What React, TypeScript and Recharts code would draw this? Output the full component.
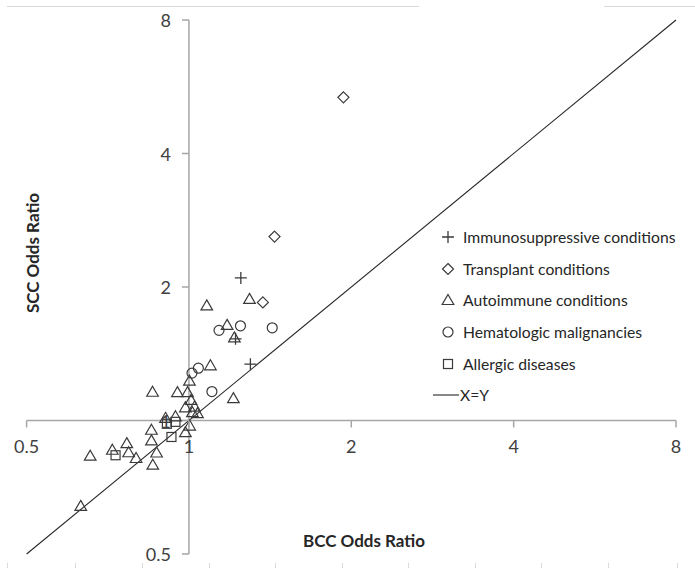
import React from 'react';
import { ScatterChart, Scatter, XAxis, YAxis, ReferenceLine, Legend } from 'recharts';

const immunosuppressive = [
  { x: 1.248, y: 2.097 },
  { x: 1.22, y: 1.528 },
  { x: 1.3, y: 1.34 },
];
const transplant = [
  { x: 1.934, y: 5.355 },
  { x: 1.441, y: 2.598 },
  { x: 1.371, y: 1.846 },
];
const autoimmune = [
  { x: 1.295, y: 1.88 },
  { x: 1.079, y: 1.818 },
  { x: 1.177, y: 1.643 },
  { x: 1.214, y: 1.54 },
  { x: 1.096, y: 1.332 },
  { x: 1.002, y: 1.23 },
  { x: 0.856, y: 1.161 },
  { x: 0.952, y: 1.159 },
  { x: 0.994, y: 1.159 },
  { x: 1.209, y: 1.123 },
  { x: 1.009, y: 1.113 },
  { x: 0.985, y: 1.071 },
  { x: 1.024, y: 1.075 },
  { x: 1.015, y: 1.044 },
  { x: 1.037, y: 1.039 },
  { x: 0.944, y: 1.022 },
  { x: 0.905, y: 1.014 },
  { x: 1.003, y: 0.974 },
  { x: 0.985, y: 0.941 },
  { x: 0.852, y: 0.953 },
  { x: 0.852, y: 0.902 },
  { x: 0.767, y: 0.889 },
  { x: 0.721, y: 0.859 },
  { x: 0.773, y: 0.848 },
  { x: 0.656, y: 0.833 },
  { x: 0.798, y: 0.823 },
  { x: 0.871, y: 0.847 },
  { x: 0.857, y: 0.795 },
  { x: 0.63, y: 0.642 },
];
const hematologic = [
  { x: 1.137, y: 1.597 },
  { x: 1.246, y: 1.635 },
  { x: 1.427, y: 1.618 },
  { x: 1.041, y: 1.312 },
  { x: 1.013, y: 1.279 },
  { x: 1.103, y: 1.162 },
];
const allergic = [
  { x: 0.731, y: 0.835 },
  { x: 0.928, y: 0.918 },
  { x: 0.91, y: 0.983 },
  { x: 0.944, y: 0.993 },
];
const identityLine = [
  { x: 0.5, y: 0.5 },
  { x: 8, y: 8 },
];
const axisTicks = [0.5, 1, 2, 4, 8];
const axisDomain = [0.5, 8];
const seriesNames = [
  'Immunosuppressive conditions',
  'Transplant conditions',
  'Autoimmune conditions',
  'Hematologic malignancies',
  'Allergic diseases',
  'X=Y',
];

const W = 695;
const H = 574;
const PLOT = { left: 26.6, right: 676, top: 20, bottom: 554 };
const AXIS_SIZE = 1;
const M = { top: PLOT.top, right: W - PLOT.right, bottom: H - PLOT.bottom - AXIS_SIZE, left: PLOT.left - AXIS_SIZE };
const PLOT_W = PLOT.right - PLOT.left;
const PLOT_H = PLOT.bottom - PLOT.top;
// axes cross at value 1 on both log scales (1 is one doubling above 0.5, of four doublings)
const X_CROSS = PLOT.left + PLOT_W * (1 / 4);
const Y_CROSS = PLOT.top + PLOT_H * (3 / 4);

const AXIS_COLOR = '#a6a6a6';
const MARK = '#3a3a3a';
const FONT = 'Lato, "Open Sans", sans-serif';

const Plus = ({ cx, cy }: any) => (
  <path d={`M${cx - 6},${cy}H${cx + 6}M${cx},${cy - 6}V${cy + 6}`} stroke={MARK} strokeWidth={1.3} fill="none" />
);
const Diamond = ({ cx, cy }: any) => (
  <path d={`M${cx},${cy - 5.5}L${cx + 5.5},${cy}L${cx},${cy + 5.5}L${cx - 5.5},${cy}Z`} stroke={MARK} strokeWidth={1.2} fill="none" />
);
const Triangle = ({ cx, cy }: any) => (
  <path d={`M${cx},${cy - 5.5}L${cx + 5.8},${cy + 4.5}L${cx - 5.8},${cy + 4.5}Z`} stroke={MARK} strokeWidth={1.2} fill="none" />
);
const Circle = ({ cx, cy }: any) => (
  <circle cx={cx} cy={cy} r={5} stroke={MARK} strokeWidth={1.2} fill="none" />
);
const Square = ({ cx, cy }: any) => (
  <rect x={cx - 4.5} y={cy - 4.5} width={9} height={9} stroke={MARK} strokeWidth={1.2} fill="none" />
);
const shapes = [Plus, Diamond, Triangle, Circle, Square];

const XTick = (props: any) => {
  const { x, payload } = props;
  return (
    <g>
      <line x1={x} x2={x} y1={Y_CROSS} y2={Y_CROSS + 7} stroke={AXIS_COLOR} strokeWidth={1.5} />
      <text x={x} y={Y_CROSS + 25} textAnchor="middle" dominantBaseline="central" fontFamily={FONT} fontSize={18} fill="#404040">
        {payload.value}
      </text>
    </g>
  );
};

const YTick = (props: any) => {
  const { y, payload } = props;
  return (
    <g>
      <line x1={X_CROSS - 7} x2={X_CROSS} y1={y} y2={y} stroke={AXIS_COLOR} strokeWidth={1.5} />
      <text x={X_CROSS - 18} y={y} textAnchor="end" dominantBaseline="central" fontFamily={FONT} fontSize={18} fill="#404040">
        {payload.value}
      </text>
    </g>
  );
};

const LegendContent = () => (
  <div style={{ fontFamily: FONT, fontSize: 15.7, color: '#262626' }}>
    {seriesNames.map((name, i) => {
      const Shape = shapes[i];
      return (
        <div key={name} style={{ height: 31.7, display: 'flex', alignItems: 'center', whiteSpace: 'nowrap' }}>
          <svg width={33} height={20} style={{ flex: 'none' }}>
            {Shape ? <Shape cx={18} cy={10} /> : <line x1={3} x2={29} y1={10} y2={10} stroke={MARK} strokeWidth={1.2} />}
          </svg>
          <span style={{ marginLeft: Shape ? 0 : -3 }}>{name}</span>
        </div>
      );
    })}
  </div>
);

const bottomMarks = [7, 75, 142, 209, 275, 342, 408, 475, 541, 608, 677];

export default function App() {
  return (
    <div style={{ position: 'absolute', left: 0, top: 0, width: W, height: H, background: '#fff' }}>
      <div style={{ position: 'absolute', left: 7, top: 6, width: 412, height: 1, background: '#d9d9d9' }} />
      <div style={{ position: 'absolute', left: 604, top: 6, width: 91, height: 1, background: '#d9d9d9' }} />
      {bottomMarks.map((bx) => (
        <div key={bx} style={{ position: 'absolute', left: bx, top: 563, width: 1, height: 5, background: '#d9d9d9' }} />
      ))}
      <ScatterChart width={W} height={H} margin={M}>
        <XAxis
          type="number"
          dataKey="x"
          scale="log"
          domain={axisDomain}
          ticks={axisTicks}
          interval={0}
          allowDataOverflow
          axisLine={false}
          tickLine={false}
          tick={XTick}
          height={AXIS_SIZE}
        />
        <YAxis
          type="number"
          dataKey="y"
          scale="log"
          domain={axisDomain}
          ticks={axisTicks}
          interval={0}
          allowDataOverflow
          axisLine={false}
          tickLine={false}
          tick={YTick}
          width={AXIS_SIZE}
        />
        <ReferenceLine y={1} stroke={AXIS_COLOR} strokeWidth={1.5} ifOverflow="visible" />
        <ReferenceLine x={1} stroke={AXIS_COLOR} strokeWidth={1.5} ifOverflow="visible" />
        <ReferenceLine segment={identityLine} stroke="#262626" strokeWidth={1.1} ifOverflow="visible" />
        <Scatter name={seriesNames[0]} data={immunosuppressive} shape={Plus} isAnimationActive={false} />
        <Scatter name={seriesNames[1]} data={transplant} shape={Diamond} isAnimationActive={false} />
        <Scatter name={seriesNames[2]} data={autoimmune} shape={Triangle} isAnimationActive={false} />
        <Scatter name={seriesNames[3]} data={hematologic} shape={Circle} isAnimationActive={false} />
        <Scatter name={seriesNames[4]} data={allergic} shape={Square} isAnimationActive={false} />
        <Legend
          layout="vertical"
          align="center"
          verticalAlign="middle"
          content={<LegendContent />}
          wrapperStyle={{ position: 'absolute', left: 430, top: 221, width: 265, height: 200 }}
        />
        <text x={364} y={540} textAnchor="middle" dominantBaseline="central" fontFamily={FONT} fontWeight="bold" fontSize={17} fill="#262626">
          BCC Odds Ratio
        </text>
        <text
          x={32}
          y={253}
          textAnchor="middle"
          dominantBaseline="central"
          fontFamily={FONT}
          fontWeight="bold"
          fontSize={17}
          fill="#262626"
          transform="rotate(-90 32 253)"
        >
          SCC Odds Ratio
        </text>
      </ScatterChart>
    </div>
  );
}
